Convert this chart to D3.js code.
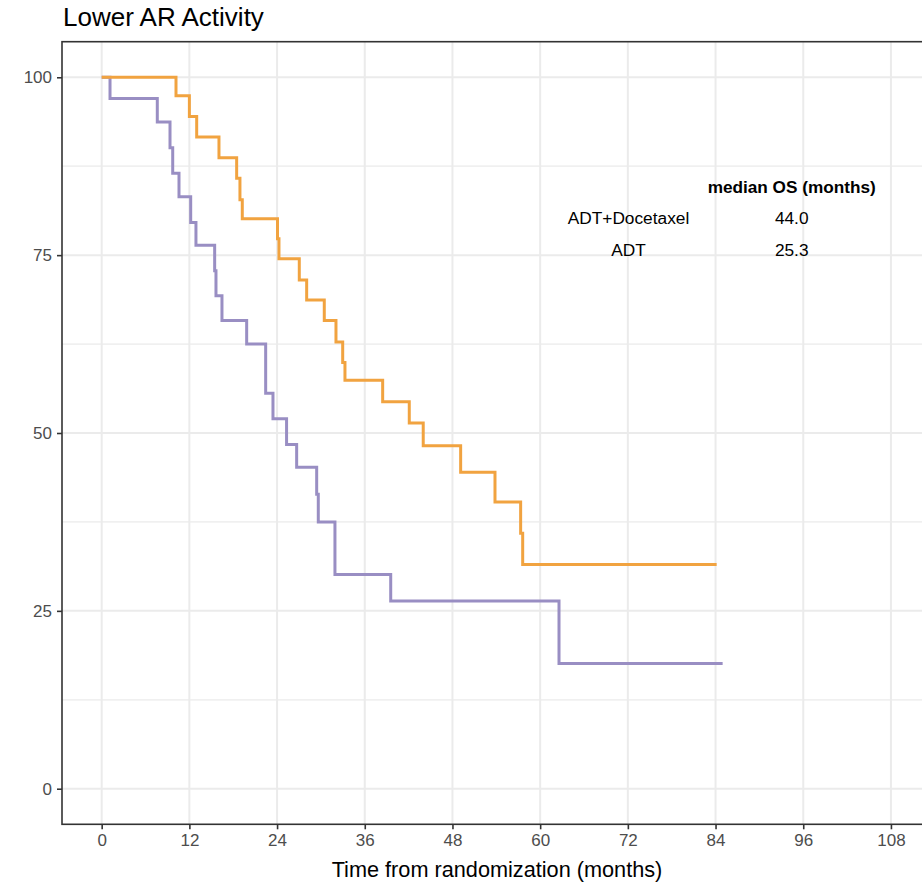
<!DOCTYPE html>
<html>
<head>
<meta charset="utf-8">
<script src="https://cdn.jsdelivr.net/npm/d3@7/dist/d3.min.js"></script>
<style>
  html, body { margin: 0; padding: 0; background: #fff; }
  svg { display: block; font-family: "Liberation Sans", Arial, sans-serif; }
</style>
</head>
<body>
<svg id="chart" width="922" height="882"></svg>
<script>
// Kaplan-Meier step curves: event times (months) and survival (%) after each step
const docetaxelTimes = [0, 10.17, 12.0, 13.0, 16.05, 18.47, 18.92, 19.24, 24.06, 24.26, 27.04, 28.05, 30.46, 32.06, 32.98, 33.29, 38.45, 42.09, 44.0, 49.12, 53.82, 57.33, 57.61, 84.15];
const docetaxelSurv  = [100, 97.4, 94.5, 91.6, 88.7, 85.8, 82.8, 80.1, 77.3, 74.5, 71.5, 68.7, 65.8, 62.8, 59.9, 57.4, 54.4, 51.4, 48.2, 44.5, 40.3, 35.9, 31.5, 31.5];

const adtTimes = [0, 1.14, 7.61, 9.35, 9.72, 10.58, 12.18, 12.9, 15.46, 15.64, 16.46, 19.84, 22.44, 23.44, 25.3, 26.68, 29.42, 29.64, 31.92, 39.55, 62.58, 84.97];
const adtSurv  = [100, 97.0, 93.7, 90.1, 86.5, 83.2, 79.6, 76.4, 72.8, 69.3, 65.8, 62.5, 55.6, 52.0, 48.4, 45.2, 41.4, 37.5, 30.1, 26.4, 17.6, 17.6];

const armNames   = ["ADT+Docetaxel", "ADT"];
const medianOS   = ["44.0", "25.3"];
const armColors  = ["#F1A340", "#998EC3"];

const xTicks = [0, 12, 24, 36, 48, 60, 72, 84, 96, 108];
const yTicks = [0, 25, 50, 75, 100];
const yMinor = [12.5, 37.5, 62.5, 87.5];

const title = "Lower AR Activity";
const xTitle = "Time from randomization (months)";
const tableHeader = "median OS (months)";

// ---- layout ----
const svg = d3.select("#chart");
const panel = { left: 62, top: 41.7, right: 935, bottom: 824.3 };

const xMax = 108.6, xPad = xMax * 0.05;
const x = d3.scaleLinear().domain([-xPad, xMax + xPad]).range([panel.left, panel.right]);
const y = d3.scaleLinear().domain([-5, 105]).range([panel.bottom, panel.top]);

svg.append("defs").append("clipPath").attr("id", "panelClip")
  .append("rect")
  .attr("x", panel.left).attr("y", panel.top)
  .attr("width", panel.right - panel.left).attr("height", panel.bottom - panel.top);

const grid = svg.append("g").attr("clip-path", "url(#panelClip)");

// minor horizontal gridlines
grid.selectAll("line.ymin").data(yMinor).join("line")
  .attr("class", "ymin")
  .attr("x1", panel.left).attr("x2", panel.right)
  .attr("y1", d => y(d)).attr("y2", d => y(d))
  .attr("stroke", "#F0F0F0").attr("stroke-width", 1.8);

// major gridlines
grid.selectAll("line.ymaj").data(yTicks).join("line")
  .attr("class", "ymaj")
  .attr("x1", panel.left).attr("x2", panel.right)
  .attr("y1", d => y(d)).attr("y2", d => y(d))
  .attr("stroke", "#EBEBEB").attr("stroke-width", 2);

grid.selectAll("line.xmaj").data(xTicks).join("line")
  .attr("class", "xmaj")
  .attr("y1", panel.top).attr("y2", panel.bottom)
  .attr("x1", d => x(d)).attr("x2", d => x(d))
  .attr("stroke", "#EBEBEB").attr("stroke-width", 2);

// survival curves
const curves = [
  { times: docetaxelTimes, surv: docetaxelSurv, color: armColors[0] },
  { times: adtTimes, surv: adtSurv, color: armColors[1] }
];

const line = d3.line()
  .x(d => x(d[0]))
  .y(d => y(d[1]))
  .curve(d3.curveStepAfter);

const plot = svg.append("g").attr("clip-path", "url(#panelClip)");
// draw ADT first so the docetaxel curve sits on top where they overlap
curves.slice().reverse().forEach(c => {
  const pts = c.times.map((t, i) => [t, c.surv[i]]);
  plot.append("path")
    .datum(pts)
    .attr("d", line)
    .attr("fill", "none")
    .attr("stroke", c.color)
    .attr("stroke-width", 3)
    .attr("stroke-linejoin", "miter")
    .attr("stroke-linecap", "butt");
});

// panel border
svg.append("rect")
  .attr("x", panel.left).attr("y", panel.top)
  .attr("width", panel.right - panel.left).attr("height", panel.bottom - panel.top)
  .attr("fill", "none").attr("stroke", "#333333").attr("stroke-width", 1.6);

// axes
const xAxis = d3.axisBottom(x).tickValues(xTicks).tickSize(5).tickPadding(5);
const yAxis = d3.axisLeft(y).tickValues(yTicks).tickSize(5).tickPadding(5);

const gx = svg.append("g").attr("transform", `translate(0,${panel.bottom})`).call(xAxis);
const gy = svg.append("g").attr("transform", `translate(${panel.left},0)`).call(yAxis);

[gx, gy].forEach(g => {
  g.select(".domain").remove();
  g.selectAll(".tick line").attr("stroke", "#333333").attr("stroke-width", 1.6);
  g.selectAll(".tick text")
    .attr("fill", "#4D4D4D")
    .style("font-size", "17px")
    .style("font-family", "'Liberation Sans', Arial, sans-serif");
});

// title
svg.append("text")
  .attr("x", 63).attr("y", 26)
  .attr("fill", "#000")
  .style("font-size", "26px")
  .text(title);

// x axis title
svg.append("text")
  .attr("x", (panel.left + panel.right) / 2 - 1.5).attr("y", 876.5)
  .attr("text-anchor", "middle")
  .attr("fill", "#000")
  .style("font-size", "21.7px")
  .text(xTitle);

// median OS table
const colName = 628.5, colVal = 791.7;
svg.append("text")
  .attr("x", colVal).attr("y", 193)
  .attr("text-anchor", "middle")
  .style("font-size", "17.2px").style("font-weight", "bold")
  .text(tableHeader);

const rowY = [223.5, 256];
armNames.forEach((n, i) => {
  svg.append("text")
    .attr("x", colName).attr("y", rowY[i])
    .attr("text-anchor", "middle")
    .style("font-size", "17.3px")
    .text(n);
  svg.append("text")
    .attr("x", colVal).attr("y", rowY[i])
    .attr("text-anchor", "middle")
    .style("font-size", "17.3px")
    .text(medianOS[i]);
});
</script>
</body>
</html>
